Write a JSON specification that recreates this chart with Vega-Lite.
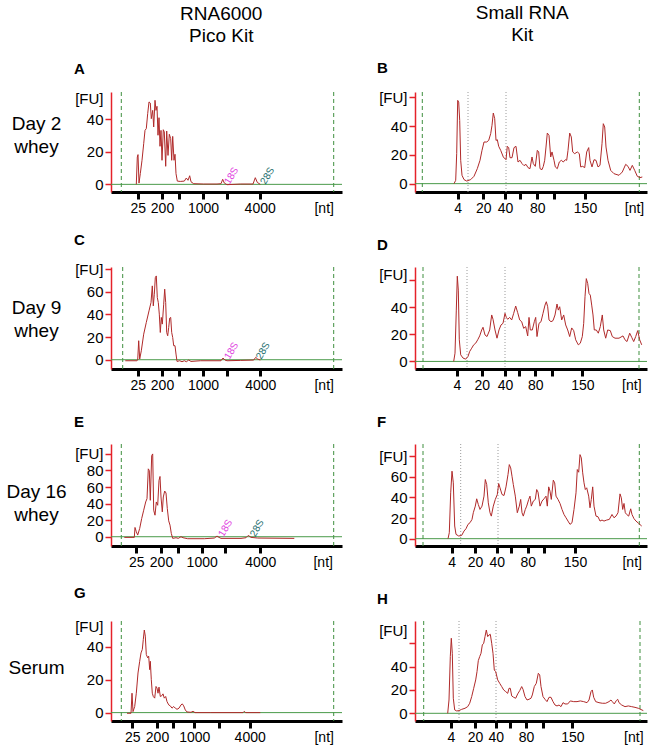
{
  "$schema": "https://vega.github.io/schema/vega-lite/v6.json",
  "padding": {"left": 5, "top": 4, "right": 6, "bottom": 4},
  "config": {
    "font": "Liberation Sans",
    "view": {"stroke": null},
    "axisX": {"domainColor": "#000000", "domainWidth": 3, "tickColor": "#000000", "tickWidth": 3, "tickSize": 7, "labelFontSize": 14, "labelPadding": 2, "labelOverlap": false, "labelSeparation": -100, "labelFlush": false, "labelColor": "#000000", "grid": false},
    "axisY": {"domainColor": "#e5222a", "domainWidth": 1.5, "tickColor": "#e5222a", "tickWidth": 1.5, "tickSize": 6, "labelFontSize": 15, "labelPadding": 2, "labelColor": "#000000", "grid": false, "labelOverlap": false, "labelSeparation": -100, "labelFlush": false, "titleFontWeight": "normal", "titleFontSize": 19, "titleAngle": 0, "titleAlign": "center", "titleBaseline": "middle", "titleColor": "#000000", "titleLineHeight": 23},
    "title": {"fontSize": 15, "fontWeight": "bold", "anchor": "start", "frame": "group", "color": "#000000"}
  },
  "spacing": 34,
  "hconcat": [
    {
      "title": {"text": ["RNA6000", "Pico Kit"], "anchor": "middle", "frame": "bounds", "dx": 47, "fontWeight": "normal", "fontSize": 19, "lineHeight": 22, "offset": 16},
      "bounds": "flush",
      "spacing": 75,
      "vconcat": [
        {
          "width": 231, "height": 100,
          "title": {"text": "A", "dx": -37, "offset": 14},
          "layer": [
            {"data": {"name": "vl"}, "transform": [{"filter": "datum.p == 'A'"}], "mark": {"type": "rule", "color": "#3f8f3f", "strokeDash": [4, 3], "strokeWidth": 1},
             "encoding": {"x": {"field": "t", "type": "quantitative", "title": null, "scale": {"domain": [0, 231], "nice": false, "zero": false}, "axis": {"labelOverlap": false, "labelSeparation": -100, "values": [26.7, 51, 67.7, 92, 116, 148.7, 212.7], "labelExpr": "['25','200','','1000','','4000','[nt]'][indexof([26.7, 51, 67.7, 92, 116, 148.7, 212.7], datum.value)]", "tickOpacity": {"condition": {"test": "datum.value == 212.7", "value": 0}, "value": 1}}}}},
            {"data": {"name": "base"}, "mark": {"type": "rule", "color": "#4a9a4a", "strokeWidth": 1},
             "encoding": {"y": {"field": "v", "type": "quantitative", "title": ["Day 2", "whey"], "scale": {"domain": [-4.7, 56.8], "nice": false, "zero": false}, "axis": {"labelOverlap": false, "labelSeparation": -100, "titleX": -75, "titleY": 31, "values": [0, 20, 40, 53], "labelExpr": "datum.value == 53 ? '[FU]' : datum.label", "tickOpacity": {"condition": {"test": "datum.value == 53", "value": 0}, "value": 1}}}}},
            {"data": {"name": "trA"}, "mark": {"type": "line", "color": "#b02a2a", "strokeWidth": 1},
             "encoding": {
               "x": {"field": "t", "type": "quantitative", "title": null, "scale": {"domain": [0, 231], "nice": false, "zero": false}, "axis": {"labelOverlap": false, "labelSeparation": -100, "values": [26.7, 51, 67.7, 92, 116, 148.7, 212.7], "labelExpr": "['25','200','','1000','','4000','[nt]'][indexof([26.7, 51, 67.7, 92, 116, 148.7, 212.7], datum.value)]", "tickOpacity": {"condition": {"test": "datum.value == 212.7", "value": 0}, "value": 1}}},
               "y": {"field": "v", "type": "quantitative", "title": ["Day 2", "whey"], "scale": {"domain": [-4.7, 56.8], "nice": false, "zero": false}, "axis": {"labelOverlap": false, "labelSeparation": -100, "titleX": -75, "titleY": 31, "values": [0, 20, 40, 53], "labelExpr": "datum.value == 53 ? '[FU]' : datum.label", "tickOpacity": {"condition": {"test": "datum.value == 53", "value": 0}, "value": 1}}}
             }},
            {"data": {"name": "lab"}, "transform": [{"filter": "datum.p == 'A'"}], "mark": {"type": "text", "angle": 300, "align": "left", "baseline": "middle", "fontSize": 10},
             "encoding": {
               "x": {"field": "t", "type": "quantitative", "title": null, "scale": {"domain": [0, 231], "nice": false, "zero": false}, "axis": {"labelOverlap": false, "labelSeparation": -100, "values": [26.7, 51, 67.7, 92, 116, 148.7, 212.7], "labelExpr": "['25','200','','1000','','4000','[nt]'][indexof([26.7, 51, 67.7, 92, 116, 148.7, 212.7], datum.value)]", "tickOpacity": {"condition": {"test": "datum.value == 212.7", "value": 0}, "value": 1}}},
               "y": {"field": "v", "type": "quantitative", "title": ["Day 2", "whey"], "scale": {"domain": [-4.7, 56.8], "nice": false, "zero": false}, "axis": {"labelOverlap": false, "labelSeparation": -100, "titleX": -75, "titleY": 31, "values": [0, 20, 40, 53], "labelExpr": "datum.value == 53 ? '[FU]' : datum.label", "tickOpacity": {"condition": {"test": "datum.value == 53", "value": 0}, "value": 1}}},
               "text": {"field": "txt"}, "color": {"field": "txt", "type": "nominal", "scale": {"domain": ["18S", "28S"], "range": ["#e040e0", "#1d6e6e"]}, "legend": null}}}
          ]
        },
        {
          "width": 231, "height": 102,
          "title": {"text": "C", "dx": -37, "offset": 14},
          "layer": [
            {"data": {"name": "vl"}, "transform": [{"filter": "datum.p == 'C'"}], "mark": {"type": "rule", "color": "#3f8f3f", "strokeDash": [4, 3], "strokeWidth": 1},
             "encoding": {"x": {"field": "t", "type": "quantitative", "title": null, "scale": {"domain": [0, 231], "nice": false, "zero": false}, "axis": {"labelOverlap": false, "labelSeparation": -100, "values": [26.7, 51, 67.7, 92, 116, 149.3, 212.7], "labelExpr": "['25','200','','1000','','4000','[nt]'][indexof([26.7, 51, 67.7, 92, 116, 149.3, 212.7], datum.value)]", "tickOpacity": {"condition": {"test": "datum.value == 212.7", "value": 0}, "value": 1}}}}},
            {"data": {"name": "base"}, "mark": {"type": "rule", "color": "#4a9a4a", "strokeWidth": 1},
             "encoding": {"y": {"field": "v", "type": "quantitative", "title": ["Day 9", "whey"], "scale": {"domain": [-8.2, 82], "nice": false, "zero": false}, "axis": {"labelOverlap": false, "labelSeparation": -100, "titleX": -75, "titleY": 40, "values": [0, 20, 40, 60, 80], "labelExpr": "datum.value == 80 ? '[FU]' : datum.label"}}}},
            {"data": {"name": "trC"}, "mark": {"type": "line", "color": "#b02a2a", "strokeWidth": 1},
             "encoding": {
               "x": {"field": "t", "type": "quantitative", "title": null, "scale": {"domain": [0, 231], "nice": false, "zero": false}, "axis": {"labelOverlap": false, "labelSeparation": -100, "values": [26.7, 51, 67.7, 92, 116, 149.3, 212.7], "labelExpr": "['25','200','','1000','','4000','[nt]'][indexof([26.7, 51, 67.7, 92, 116, 149.3, 212.7], datum.value)]", "tickOpacity": {"condition": {"test": "datum.value == 212.7", "value": 0}, "value": 1}}},
               "y": {"field": "v", "type": "quantitative", "title": ["Day 9", "whey"], "scale": {"domain": [-8.2, 82], "nice": false, "zero": false}, "axis": {"labelOverlap": false, "labelSeparation": -100, "titleX": -75, "titleY": 40, "values": [0, 20, 40, 60, 80], "labelExpr": "datum.value == 80 ? '[FU]' : datum.label"}}
             }},
            {"data": {"name": "lab"}, "transform": [{"filter": "datum.p == 'C'"}], "mark": {"type": "text", "angle": 300, "align": "left", "baseline": "middle", "fontSize": 10},
             "encoding": {
               "x": {"field": "t", "type": "quantitative", "title": null, "scale": {"domain": [0, 231], "nice": false, "zero": false}, "axis": {"labelOverlap": false, "labelSeparation": -100, "values": [26.7, 51, 67.7, 92, 116, 149.3, 212.7], "labelExpr": "['25','200','','1000','','4000','[nt]'][indexof([26.7, 51, 67.7, 92, 116, 149.3, 212.7], datum.value)]", "tickOpacity": {"condition": {"test": "datum.value == 212.7", "value": 0}, "value": 1}}},
               "y": {"field": "v", "type": "quantitative", "title": ["Day 9", "whey"], "scale": {"domain": [-8.2, 82], "nice": false, "zero": false}, "axis": {"labelOverlap": false, "labelSeparation": -100, "titleX": -75, "titleY": 40, "values": [0, 20, 40, 60, 80], "labelExpr": "datum.value == 80 ? '[FU]' : datum.label"}},
               "text": {"field": "txt"}, "color": {"field": "txt", "type": "nominal", "scale": {"domain": ["18S", "28S"], "range": ["#e040e0", "#1d6e6e"]}, "legend": null}}}
          ]
        },
        {
          "width": 231, "height": 102,
          "title": {"text": "E", "dx": -37, "offset": 14},
          "layer": [
            {"data": {"name": "vl"}, "transform": [{"filter": "datum.p == 'E'"}], "mark": {"type": "rule", "color": "#3f8f3f", "strokeDash": [4, 3], "strokeWidth": 1},
             "encoding": {"x": {"field": "t", "type": "quantitative", "title": null, "scale": {"domain": [0, 231], "nice": false, "zero": false}, "axis": {"labelOverlap": false, "labelSeparation": -100, "values": [25.3, 50, 66.7, 90.7, 114.3, 149.3, 211.7], "labelExpr": "['25','200','','1000','','4000','[nt]'][indexof([25.3, 50, 66.7, 90.7, 114.3, 149.3, 211.7], datum.value)]", "tickOpacity": {"condition": {"test": "datum.value == 211.7", "value": 0}, "value": 1}}}}},
            {"data": {"name": "base"}, "mark": {"type": "rule", "color": "#4a9a4a", "strokeWidth": 1},
             "encoding": {"y": {"field": "v", "type": "quantitative", "title": ["Day 16", "whey"], "scale": {"domain": [-11.2, 112], "nice": false, "zero": false}, "axis": {"labelOverlap": false, "labelSeparation": -100, "titleX": -75, "titleY": 47, "values": [0, 20, 40, 60, 80, 100], "labelExpr": "datum.value == 100 ? '[FU]' : datum.label"}}}},
            {"data": {"name": "trE"}, "mark": {"type": "line", "color": "#b02a2a", "strokeWidth": 1},
             "encoding": {
               "x": {"field": "t", "type": "quantitative", "title": null, "scale": {"domain": [0, 231], "nice": false, "zero": false}, "axis": {"labelOverlap": false, "labelSeparation": -100, "values": [25.3, 50, 66.7, 90.7, 114.3, 149.3, 211.7], "labelExpr": "['25','200','','1000','','4000','[nt]'][indexof([25.3, 50, 66.7, 90.7, 114.3, 149.3, 211.7], datum.value)]", "tickOpacity": {"condition": {"test": "datum.value == 211.7", "value": 0}, "value": 1}}},
               "y": {"field": "v", "type": "quantitative", "title": ["Day 16", "whey"], "scale": {"domain": [-11.2, 112], "nice": false, "zero": false}, "axis": {"labelOverlap": false, "labelSeparation": -100, "titleX": -75, "titleY": 47, "values": [0, 20, 40, 60, 80, 100], "labelExpr": "datum.value == 100 ? '[FU]' : datum.label"}}
             }},
            {"data": {"name": "lab"}, "transform": [{"filter": "datum.p == 'E'"}], "mark": {"type": "text", "angle": 300, "align": "left", "baseline": "middle", "fontSize": 10},
             "encoding": {
               "x": {"field": "t", "type": "quantitative", "title": null, "scale": {"domain": [0, 231], "nice": false, "zero": false}, "axis": {"labelOverlap": false, "labelSeparation": -100, "values": [25.3, 50, 66.7, 90.7, 114.3, 149.3, 211.7], "labelExpr": "['25','200','','1000','','4000','[nt]'][indexof([25.3, 50, 66.7, 90.7, 114.3, 149.3, 211.7], datum.value)]", "tickOpacity": {"condition": {"test": "datum.value == 211.7", "value": 0}, "value": 1}}},
               "y": {"field": "v", "type": "quantitative", "title": ["Day 16", "whey"], "scale": {"domain": [-11.2, 112], "nice": false, "zero": false}, "axis": {"labelOverlap": false, "labelSeparation": -100, "titleX": -75, "titleY": 47, "values": [0, 20, 40, 60, 80, 100], "labelExpr": "datum.value == 100 ? '[FU]' : datum.label"}},
               "text": {"field": "txt"}, "color": {"field": "txt", "type": "nominal", "scale": {"domain": ["18S", "28S"], "range": ["#e040e0", "#1d6e6e"]}, "legend": null}}}
          ]
        },
        {
          "width": 231, "height": 100,
          "title": {"text": "G", "dx": -37, "offset": 18},
          "layer": [
            {"data": {"name": "vl"}, "transform": [{"filter": "datum.p == 'G'"}], "mark": {"type": "rule", "color": "#3f8f3f", "strokeDash": [4, 3], "strokeWidth": 1},
             "encoding": {"x": {"field": "t", "type": "quantitative", "title": null, "scale": {"domain": [0, 231], "nice": false, "zero": false}, "axis": {"labelOverlap": false, "labelSeparation": -100, "values": [21.3, 46, 61.7, 83.3, 107.7, 138.7, 212.7], "labelExpr": "['25','200','','1000','','4000','[nt]'][indexof([21.3, 46, 61.7, 83.3, 107.7, 138.7, 212.7], datum.value)]", "tickOpacity": {"condition": {"test": "datum.value == 212.7", "value": 0}, "value": 1}}}}},
            {"data": {"name": "base"}, "mark": {"type": "rule", "color": "#4a9a4a", "strokeWidth": 1},
             "encoding": {"y": {"field": "v", "type": "quantitative", "title": "Serum", "scale": {"domain": [-5.1, 55.7], "nice": false, "zero": false}, "axis": {"labelOverlap": false, "labelSeparation": -100, "titleX": -75, "titleY": 46, "values": [0, 20, 40, 52.5], "labelExpr": "datum.value == 52.5 ? '[FU]' : datum.label", "tickOpacity": {"condition": {"test": "datum.value == 52.5", "value": 0}, "value": 1}}}}},
            {"data": {"name": "trG"}, "mark": {"type": "line", "color": "#b02a2a", "strokeWidth": 1},
             "encoding": {
               "x": {"field": "t", "type": "quantitative", "title": null, "scale": {"domain": [0, 231], "nice": false, "zero": false}, "axis": {"labelOverlap": false, "labelSeparation": -100, "values": [21.3, 46, 61.7, 83.3, 107.7, 138.7, 212.7], "labelExpr": "['25','200','','1000','','4000','[nt]'][indexof([21.3, 46, 61.7, 83.3, 107.7, 138.7, 212.7], datum.value)]", "tickOpacity": {"condition": {"test": "datum.value == 212.7", "value": 0}, "value": 1}}},
               "y": {"field": "v", "type": "quantitative", "title": "Serum", "scale": {"domain": [-5.1, 55.7], "nice": false, "zero": false}, "axis": {"labelOverlap": false, "labelSeparation": -100, "titleX": -75, "titleY": 46, "values": [0, 20, 40, 52.5], "labelExpr": "datum.value == 52.5 ? '[FU]' : datum.label", "tickOpacity": {"condition": {"test": "datum.value == 52.5", "value": 0}, "value": 1}}}
             }}
          ]
        }
      ]
    },
    {
      "title": {"text": ["Small RNA", "Kit"], "anchor": "middle", "frame": "bounds", "dx": 10, "fontWeight": "normal", "fontSize": 19, "lineHeight": 22, "offset": 16},
      "bounds": "flush",
      "spacing": 75,
      "vconcat": [
        {
          "width": 232, "height": 100,
          "title": {"text": "B", "dx": -38, "offset": 14},
          "layer": [
            {"data": {"name": "vl"}, "transform": [{"filter": "datum.p == 'B' && datum.k == 'g'"}], "mark": {"type": "rule", "color": "#3f8f3f", "strokeDash": [4, 3], "strokeWidth": 1},
             "encoding": {"x": {"field": "t", "type": "quantitative", "title": null, "scale": {"domain": [0, 232], "nice": false, "zero": false}, "axis": {"labelOverlap": false, "labelSeparation": -100, "values": [42.7, 68.3, 90, 105, 122.3, 139, 170, 219], "labelExpr": "['4','20','40','','80','','150','[nt]'][indexof([42.7, 68.3, 90, 105, 122.3, 139, 170, 219], datum.value)]", "tickOpacity": {"condition": {"test": "datum.value == 219", "value": 0}, "value": 1}}}}},
            {"data": {"name": "vl"}, "transform": [{"filter": "datum.p == 'B' && datum.k == 'd'"}], "mark": {"type": "rule", "color": "#9a9a9a", "strokeDash": [1, 2], "strokeWidth": 1},
             "encoding": {"x": {"field": "t", "type": "quantitative", "title": null, "scale": {"domain": [0, 232], "nice": false, "zero": false}, "axis": {"labelOverlap": false, "labelSeparation": -100, "values": [42.7, 68.3, 90, 105, 122.3, 139, 170, 219], "labelExpr": "['4','20','40','','80','','150','[nt]'][indexof([42.7, 68.3, 90, 105, 122.3, 139, 170, 219], datum.value)]", "tickOpacity": {"condition": {"test": "datum.value == 219", "value": 0}, "value": 1}}}}},
            {"data": {"name": "base"}, "mark": {"type": "rule", "color": "#4a9a4a", "strokeWidth": 1},
             "encoding": {"y": {"field": "v", "type": "quantitative", "title": null, "scale": {"domain": [-5.8, 63.6], "nice": false, "zero": false}, "axis": {"labelOverlap": false, "labelSeparation": -100, "values": [0, 20, 40, 60], "labelExpr": "datum.value == 60 ? '[FU]' : datum.label"}}}},
            {"data": {"name": "trB"}, "mark": {"type": "line", "color": "#b02a2a", "strokeWidth": 1},
             "encoding": {
               "x": {"field": "t", "type": "quantitative", "title": null, "scale": {"domain": [0, 232], "nice": false, "zero": false}, "axis": {"labelOverlap": false, "labelSeparation": -100, "values": [42.7, 68.3, 90, 105, 122.3, 139, 170, 219], "labelExpr": "['4','20','40','','80','','150','[nt]'][indexof([42.7, 68.3, 90, 105, 122.3, 139, 170, 219], datum.value)]", "tickOpacity": {"condition": {"test": "datum.value == 219", "value": 0}, "value": 1}}},
               "y": {"field": "v", "type": "quantitative", "title": null, "scale": {"domain": [-5.8, 63.6], "nice": false, "zero": false}, "axis": {"labelOverlap": false, "labelSeparation": -100, "values": [0, 20, 40, 60], "labelExpr": "datum.value == 60 ? '[FU]' : datum.label"}}
             }}
          ]
        },
        {
          "width": 232, "height": 102,
          "title": {"text": "D", "dx": -38, "offset": 14},
          "layer": [
            {"data": {"name": "vl"}, "transform": [{"filter": "datum.p == 'D' && datum.k == 'g'"}], "mark": {"type": "rule", "color": "#3f8f3f", "strokeDash": [4, 3], "strokeWidth": 1},
             "encoding": {"x": {"field": "t", "type": "quantitative", "title": null, "scale": {"domain": [0, 232], "nice": false, "zero": false}, "axis": {"labelOverlap": false, "labelSeparation": -100, "values": [42, 66.7, 90, 104, 120.3, 137.3, 167.3, 216.3], "labelExpr": "['4','20','40','','80','','150','[nt]'][indexof([42, 66.7, 90, 104, 120.3, 137.3, 167.3, 216.3], datum.value)]", "tickOpacity": {"condition": {"test": "datum.value == 216.3", "value": 0}, "value": 1}}}}},
            {"data": {"name": "vl"}, "transform": [{"filter": "datum.p == 'D' && datum.k == 'd'"}], "mark": {"type": "rule", "color": "#9a9a9a", "strokeDash": [1, 2], "strokeWidth": 1},
             "encoding": {"x": {"field": "t", "type": "quantitative", "title": null, "scale": {"domain": [0, 232], "nice": false, "zero": false}, "axis": {"labelOverlap": false, "labelSeparation": -100, "values": [42, 66.7, 90, 104, 120.3, 137.3, 167.3, 216.3], "labelExpr": "['4','20','40','','80','','150','[nt]'][indexof([42, 66.7, 90, 104, 120.3, 137.3, 167.3, 216.3], datum.value)]", "tickOpacity": {"condition": {"test": "datum.value == 216.3", "value": 0}, "value": 1}}}}},
            {"data": {"name": "base"}, "mark": {"type": "rule", "color": "#4a9a4a", "strokeWidth": 1},
             "encoding": {"y": {"field": "v", "type": "quantitative", "title": null, "scale": {"domain": [-5.6, 69.9], "nice": false, "zero": false}, "axis": {"labelOverlap": false, "labelSeparation": -100, "values": [0, 20, 40, 60, 64.5], "labelExpr": "datum.value == 64.5 ? '[FU]' : datum.value == 60 ? '' : datum.label", "tickOpacity": {"condition": {"test": "datum.value == 64.5", "value": 0}, "value": 1}}}}},
            {"data": {"name": "trD"}, "mark": {"type": "line", "color": "#b02a2a", "strokeWidth": 1},
             "encoding": {
               "x": {"field": "t", "type": "quantitative", "title": null, "scale": {"domain": [0, 232], "nice": false, "zero": false}, "axis": {"labelOverlap": false, "labelSeparation": -100, "values": [42, 66.7, 90, 104, 120.3, 137.3, 167.3, 216.3], "labelExpr": "['4','20','40','','80','','150','[nt]'][indexof([42, 66.7, 90, 104, 120.3, 137.3, 167.3, 216.3], datum.value)]", "tickOpacity": {"condition": {"test": "datum.value == 216.3", "value": 0}, "value": 1}}},
               "y": {"field": "v", "type": "quantitative", "title": null, "scale": {"domain": [-5.6, 69.9], "nice": false, "zero": false}, "axis": {"labelOverlap": false, "labelSeparation": -100, "values": [0, 20, 40, 60, 64.5], "labelExpr": "datum.value == 64.5 ? '[FU]' : datum.value == 60 ? '' : datum.label", "tickOpacity": {"condition": {"test": "datum.value == 64.5", "value": 0}, "value": 1}}}
             }}
          ]
        },
        {
          "width": 232, "height": 102,
          "title": {"text": "F", "dx": -38, "offset": 14},
          "layer": [
            {"data": {"name": "vl"}, "transform": [{"filter": "datum.p == 'F' && datum.k == 'g'"}], "mark": {"type": "rule", "color": "#3f8f3f", "strokeDash": [4, 3], "strokeWidth": 1},
             "encoding": {"x": {"field": "t", "type": "quantitative", "title": null, "scale": {"domain": [0, 232], "nice": false, "zero": false}, "axis": {"labelOverlap": false, "labelSeparation": -100, "values": [36.7, 60, 81.7, 96, 112.7, 129.3, 160, 216.7], "labelExpr": "['4','20','40','','80','','150','[nt]'][indexof([36.7, 60, 81.7, 96, 112.7, 129.3, 160, 216.7], datum.value)]", "tickOpacity": {"condition": {"test": "datum.value == 216.7", "value": 0}, "value": 1}}}}},
            {"data": {"name": "vl"}, "transform": [{"filter": "datum.p == 'F' && datum.k == 'd'"}], "mark": {"type": "rule", "color": "#9a9a9a", "strokeDash": [1, 2], "strokeWidth": 1},
             "encoding": {"x": {"field": "t", "type": "quantitative", "title": null, "scale": {"domain": [0, 232], "nice": false, "zero": false}, "axis": {"labelOverlap": false, "labelSeparation": -100, "values": [36.7, 60, 81.7, 96, 112.7, 129.3, 160, 216.7], "labelExpr": "['4','20','40','','80','','150','[nt]'][indexof([36.7, 60, 81.7, 96, 112.7, 129.3, 160, 216.7], datum.value)]", "tickOpacity": {"condition": {"test": "datum.value == 216.7", "value": 0}, "value": 1}}}}},
            {"data": {"name": "base"}, "mark": {"type": "rule", "color": "#4a9a4a", "strokeWidth": 1},
             "encoding": {"y": {"field": "v", "type": "quantitative", "title": null, "scale": {"domain": [-7.1, 91.9], "nice": false, "zero": false}, "axis": {"labelOverlap": false, "labelSeparation": -100, "values": [0, 20, 40, 60, 80], "labelExpr": "datum.value == 80 ? '[FU]' : datum.label"}}}},
            {"data": {"name": "trF"}, "mark": {"type": "line", "color": "#b02a2a", "strokeWidth": 1},
             "encoding": {
               "x": {"field": "t", "type": "quantitative", "title": null, "scale": {"domain": [0, 232], "nice": false, "zero": false}, "axis": {"labelOverlap": false, "labelSeparation": -100, "values": [36.7, 60, 81.7, 96, 112.7, 129.3, 160, 216.7], "labelExpr": "['4','20','40','','80','','150','[nt]'][indexof([36.7, 60, 81.7, 96, 112.7, 129.3, 160, 216.7], datum.value)]", "tickOpacity": {"condition": {"test": "datum.value == 216.7", "value": 0}, "value": 1}}},
               "y": {"field": "v", "type": "quantitative", "title": null, "scale": {"domain": [-7.1, 91.9], "nice": false, "zero": false}, "axis": {"labelOverlap": false, "labelSeparation": -100, "values": [0, 20, 40, 60, 80], "labelExpr": "datum.value == 80 ? '[FU]' : datum.label"}}
             }}
          ]
        },
        {
          "width": 232, "height": 100,
          "title": {"text": "H", "dx": -38, "offset": 14},
          "layer": [
            {"data": {"name": "vl"}, "transform": [{"filter": "datum.p == 'H' && datum.k == 'g'"}], "mark": {"type": "rule", "color": "#3f8f3f", "strokeDash": [4, 3], "strokeWidth": 1},
             "encoding": {"x": {"field": "t", "type": "quantitative", "title": null, "scale": {"domain": [0, 232], "nice": false, "zero": false}, "axis": {"labelOverlap": false, "labelSeparation": -100, "values": [36, 60, 80.7, 95, 111, 128.3, 157.3, 218.3], "labelExpr": "['4','20','40','','80','','150','[nt]'][indexof([36, 60, 80.7, 95, 111, 128.3, 157.3, 218.3], datum.value)]", "tickOpacity": {"condition": {"test": "datum.value == 218.3", "value": 0}, "value": 1}}}}},
            {"data": {"name": "vl"}, "transform": [{"filter": "datum.p == 'H' && datum.k == 'd'"}], "mark": {"type": "rule", "color": "#9a9a9a", "strokeDash": [1, 2], "strokeWidth": 1},
             "encoding": {"x": {"field": "t", "type": "quantitative", "title": null, "scale": {"domain": [0, 232], "nice": false, "zero": false}, "axis": {"labelOverlap": false, "labelSeparation": -100, "values": [36, 60, 80.7, 95, 111, 128.3, 157.3, 218.3], "labelExpr": "['4','20','40','','80','','150','[nt]'][indexof([36, 60, 80.7, 95, 111, 128.3, 157.3, 218.3], datum.value)]", "tickOpacity": {"condition": {"test": "datum.value == 218.3", "value": 0}, "value": 1}}}}},
            {"data": {"name": "base"}, "mark": {"type": "rule", "color": "#4a9a4a", "strokeWidth": 1},
             "encoding": {"y": {"field": "v", "type": "quantitative", "title": null, "scale": {"domain": [-6.6, 79.1], "nice": false, "zero": false}, "axis": {"labelOverlap": false, "labelSeparation": -100, "values": [0, 20, 40, 60, 71], "labelExpr": "datum.value == 71 ? '[FU]' : datum.value == 60 ? '' : datum.label", "tickOpacity": {"condition": {"test": "datum.value == 71", "value": 0}, "value": 1}}}}},
            {"data": {"name": "trH"}, "mark": {"type": "line", "color": "#b02a2a", "strokeWidth": 1},
             "encoding": {
               "x": {"field": "t", "type": "quantitative", "title": null, "scale": {"domain": [0, 232], "nice": false, "zero": false}, "axis": {"labelOverlap": false, "labelSeparation": -100, "values": [36, 60, 80.7, 95, 111, 128.3, 157.3, 218.3], "labelExpr": "['4','20','40','','80','','150','[nt]'][indexof([36, 60, 80.7, 95, 111, 128.3, 157.3, 218.3], datum.value)]", "tickOpacity": {"condition": {"test": "datum.value == 218.3", "value": 0}, "value": 1}}},
               "y": {"field": "v", "type": "quantitative", "title": null, "scale": {"domain": [-6.6, 79.1], "nice": false, "zero": false}, "axis": {"labelOverlap": false, "labelSeparation": -100, "values": [0, 20, 40, 60, 71], "labelExpr": "datum.value == 71 ? '[FU]' : datum.value == 60 ? '' : datum.label", "tickOpacity": {"condition": {"test": "datum.value == 71", "value": 0}, "value": 1}}}
             }}
          ]
        }
      ]
    }
  ],
  "datasets": {
    "base": [{"v": 0}],
    "vl": [
      {"p": "A", "k": "g", "t": 10.3}, {"p": "A", "k": "g", "t": 222.7},
      {"p": "C", "k": "g", "t": 11.7}, {"p": "C", "k": "g", "t": 222.7},
      {"p": "E", "k": "g", "t": 10.3}, {"p": "E", "k": "g", "t": 222.7},
      {"p": "G", "k": "g", "t": 10.3}, {"p": "G", "k": "g", "t": 222.7},
      {"p": "B", "k": "g", "t": 7.3}, {"p": "B", "k": "g", "t": 224.3}, {"p": "B", "k": "d", "t": 53}, {"p": "B", "k": "d", "t": 91},
      {"p": "D", "k": "g", "t": 8}, {"p": "D", "k": "g", "t": 224}, {"p": "D", "k": "d", "t": 52}, {"p": "D", "k": "d", "t": 90},
      {"p": "F", "k": "g", "t": 8}, {"p": "F", "k": "g", "t": 224.3}, {"p": "F", "k": "d", "t": 45.7}, {"p": "F", "k": "d", "t": 83},
      {"p": "H", "k": "g", "t": 8.7}, {"p": "H", "k": "g", "t": 225}, {"p": "H", "k": "d", "t": 44}, {"p": "H", "k": "d", "t": 81}
    ],
    "lab": [
      {"p": "A", "txt": "18S", "t": 116, "v": 0.5}, {"p": "A", "txt": "28S", "t": 152, "v": 0.5},
      {"p": "C", "txt": "18S", "t": 116, "v": 1}, {"p": "C", "txt": "28S", "t": 147.7, "v": 1},
      {"p": "E", "txt": "18S", "t": 110, "v": 1}, {"p": "E", "txt": "28S", "t": 141.7, "v": 1}
    ],
    "trA": [
      {"t": 25.3, "v": 0}, {"t": 26.3, "v": 16.8}, {"t": 27, "v": 18.3}, {"t": 28, "v": 0.8}, {"t": 29.3, "v": 6.6}, {"t": 31, "v": 14.8}, {"t": 32.7, "v": 25}, {"t": 34, "v": 33.2}, {"t": 35.3, "v": 34.3}, {"t": 36.7, "v": 43.5}, {"t": 38, "v": 50.7}, {"t": 39.3, "v": 50}, {"t": 40.3, "v": 40.4}, {"t": 41.7, "v": 45.5}, {"t": 42.7, "v": 35.3}, {"t": 44, "v": 51.7}, {"t": 45, "v": 45.5}, {"t": 46, "v": 48}, {"t": 47, "v": 30.2}, {"t": 48, "v": 41}, {"t": 49, "v": 23.4}, {"t": 50, "v": 33.2}, {"t": 51, "v": 14.8}, {"t": 52.3, "v": 33.6}, {"t": 53.3, "v": 32.2}, {"t": 54.7, "v": 11.1}, {"t": 55.7, "v": 32.8}, {"t": 57, "v": 17.8}, {"t": 58.3, "v": 30.8}, {"t": 59.7, "v": 28.1}, {"t": 60.7, "v": 14.8}, {"t": 61.7, "v": 29.5}, {"t": 63, "v": 14.8}, {"t": 64, "v": 18.5}, {"t": 65, "v": 6.6}, {"t": 66.3, "v": 2}, {"t": 69.3, "v": 1.8}, {"t": 73.3, "v": 2}, {"t": 75.3, "v": 3.9}, {"t": 77, "v": 2.5}, {"t": 78.7, "v": 5.3}, {"t": 80, "v": 1.6}, {"t": 82.7, "v": 0.4}, {"t": 92.7, "v": 0.2}, {"t": 106, "v": 0.2}, {"t": 110, "v": 0.4}, {"t": 111.7, "v": 3.1}, {"t": 113.3, "v": 0.8}, {"t": 116, "v": -0.2}, {"t": 129.3, "v": 0.2}, {"t": 142, "v": 0.2}, {"t": 144.3, "v": 4.1}, {"t": 146.3, "v": 1.2}, {"t": 149.3, "v": 0}
    ],
    "trC": [
      {"t": 14.3, "v": -0.9}, {"t": 26, "v": -0.9}, {"t": 26.7, "v": -0.3}, {"t": 27.7, "v": 16.8}, {"t": 28.7, "v": 0.6}, {"t": 30.3, "v": 7.9}, {"t": 32.7, "v": 22.6}, {"t": 35.3, "v": 33}, {"t": 38, "v": 43.2}, {"t": 40, "v": 50.6}, {"t": 41.3, "v": 65.3}, {"t": 42.3, "v": 47.6}, {"t": 43.3, "v": 57.9}, {"t": 44.3, "v": 72.6}, {"t": 45.3, "v": 74.1}, {"t": 46.3, "v": 55}, {"t": 47.3, "v": 50.6}, {"t": 48.3, "v": 40.3}, {"t": 49.3, "v": 24.1}, {"t": 50.3, "v": 37.4}, {"t": 51.3, "v": 31.5}, {"t": 52.7, "v": 49.1}, {"t": 53.7, "v": 62.4}, {"t": 54.7, "v": 50.6}, {"t": 55.7, "v": 24.1}, {"t": 56.7, "v": 21.2}, {"t": 57.7, "v": 28.5}, {"t": 58.7, "v": 36.8}, {"t": 59.7, "v": 37.4}, {"t": 60.7, "v": 24.1}, {"t": 61.7, "v": 19.7}, {"t": 62.7, "v": 12.4}, {"t": 64, "v": 12.4}, {"t": 65, "v": 5}, {"t": 66, "v": -1.5}, {"t": 68.7, "v": -0.9}, {"t": 71, "v": -1.8}, {"t": 73.3, "v": -0.9}, {"t": 75.3, "v": -1.8}, {"t": 77.7, "v": -0.3}, {"t": 80, "v": -1.5}, {"t": 89.3, "v": -0.9}, {"t": 106, "v": -0.9}, {"t": 110, "v": -0.9}, {"t": 112, "v": 1.5}, {"t": 114, "v": -0.3}, {"t": 116, "v": -0.9}, {"t": 129.3, "v": -0.6}, {"t": 142.7, "v": -0.3}, {"t": 144.7, "v": 2.1}, {"t": 146.7, "v": 0.6}, {"t": 149.3, "v": -0.3}
    ],
    "trE": [
      {"t": 13.3, "v": -0.8}, {"t": 23.3, "v": -0.8}, {"t": 24, "v": 11.2}, {"t": 25.3, "v": 6}, {"t": 26.7, "v": 2}, {"t": 28.7, "v": 10}, {"t": 30.7, "v": 22}, {"t": 32.7, "v": 32}, {"t": 34.7, "v": 42}, {"t": 36, "v": 46}, {"t": 37.3, "v": 82}, {"t": 38.3, "v": 80}, {"t": 39.3, "v": 44}, {"t": 40.7, "v": 98}, {"t": 41.7, "v": 100}, {"t": 42.7, "v": 32}, {"t": 44, "v": 26}, {"t": 45.3, "v": 42}, {"t": 46.7, "v": 38}, {"t": 48, "v": 68}, {"t": 49, "v": 72.8}, {"t": 50, "v": 48}, {"t": 51.3, "v": 30}, {"t": 52.3, "v": 48}, {"t": 53.7, "v": 55.2}, {"t": 55, "v": 52.8}, {"t": 56.3, "v": 34}, {"t": 57.7, "v": 19.2}, {"t": 59, "v": 14}, {"t": 60.3, "v": 4}, {"t": 61.7, "v": -2}, {"t": 65, "v": -1.2}, {"t": 67.3, "v": -2}, {"t": 70, "v": 0}, {"t": 72, "v": -1.2}, {"t": 76.7, "v": -2.4}, {"t": 93.3, "v": -2.4}, {"t": 103.3, "v": -1.6}, {"t": 106, "v": 0.8}, {"t": 108, "v": -0.8}, {"t": 110, "v": -2}, {"t": 130, "v": -2}, {"t": 135, "v": -1.2}, {"t": 137.3, "v": 1.6}, {"t": 140, "v": -0.8}, {"t": 146.7, "v": -1.6}, {"t": 183.3, "v": -2}
    ],
    "trG": [
      {"t": 16, "v": -0.4}, {"t": 20, "v": -0.4}, {"t": 21, "v": 11.8}, {"t": 22, "v": 0.6}, {"t": 23.7, "v": 3.7}, {"t": 25.3, "v": 11.8}, {"t": 27, "v": 24.1}, {"t": 28.7, "v": 31.2}, {"t": 30, "v": 36.3}, {"t": 31.3, "v": 38.4}, {"t": 32.3, "v": 44.5}, {"t": 33.3, "v": 50.2}, {"t": 34.3, "v": 46.5}, {"t": 35.3, "v": 35.3}, {"t": 36.7, "v": 33.3}, {"t": 37.7, "v": 34.3}, {"t": 38.7, "v": 26.1}, {"t": 39.3, "v": 31.2}, {"t": 40.3, "v": 20}, {"t": 41.3, "v": 11.8}, {"t": 42.3, "v": 9.8}, {"t": 43.7, "v": 8.8}, {"t": 45, "v": 15.9}, {"t": 46, "v": 14.9}, {"t": 47, "v": 11.8}, {"t": 48, "v": 15.5}, {"t": 49.3, "v": 9.8}, {"t": 50.7, "v": 10.2}, {"t": 52, "v": 11.4}, {"t": 53.3, "v": 8.8}, {"t": 54.7, "v": 9.8}, {"t": 56, "v": 6.7}, {"t": 57.7, "v": 4.7}, {"t": 59.3, "v": 4.1}, {"t": 61, "v": 2.7}, {"t": 62.7, "v": 3.7}, {"t": 64.3, "v": 2.7}, {"t": 66, "v": 2}, {"t": 68, "v": 2.7}, {"t": 70, "v": 4.7}, {"t": 71.3, "v": 5.3}, {"t": 72.7, "v": 4.1}, {"t": 74.3, "v": 1.6}, {"t": 76, "v": 0.4}, {"t": 80, "v": 0.2}, {"t": 82, "v": 0.8}, {"t": 84, "v": 0}, {"t": 99.3, "v": 0}, {"t": 132, "v": 0}, {"t": 133.3, "v": 0.8}, {"t": 134.7, "v": 0}, {"t": 149.3, "v": 0}
    ],
    "trB": [
      {"t": 39, "v": 0}, {"t": 40.7, "v": 2.3}, {"t": 41.7, "v": 20.8}, {"t": 42.7, "v": 57.8}, {"t": 43.7, "v": 56.6}, {"t": 44.7, "v": 43.9}, {"t": 45.7, "v": 16.2}, {"t": 47, "v": 5.8}, {"t": 49, "v": 2.8}, {"t": 51.7, "v": 1.8}, {"t": 55.7, "v": 2.8}, {"t": 59, "v": 5.1}, {"t": 62.3, "v": 10.4}, {"t": 65, "v": 16.2}, {"t": 67, "v": 23.1}, {"t": 69, "v": 28.9}, {"t": 71.7, "v": 28.9}, {"t": 73.7, "v": 30}, {"t": 75.7, "v": 34.7}, {"t": 77, "v": 40.5}, {"t": 78.3, "v": 49}, {"t": 79.7, "v": 45.1}, {"t": 81, "v": 30}, {"t": 82.3, "v": 30.5}, {"t": 83.7, "v": 25.9}, {"t": 85.7, "v": 23.1}, {"t": 88.3, "v": 18.5}, {"t": 91, "v": 16.6}, {"t": 92.3, "v": 25.9}, {"t": 93.7, "v": 25}, {"t": 95, "v": 18}, {"t": 97, "v": 18}, {"t": 99, "v": 25}, {"t": 101, "v": 25.9}, {"t": 103, "v": 15}, {"t": 105, "v": 16.2}, {"t": 107, "v": 13.9}, {"t": 109, "v": 12.5}, {"t": 111, "v": 13.4}, {"t": 113, "v": 11.1}, {"t": 115, "v": 10.4}, {"t": 117, "v": 18.5}, {"t": 118.3, "v": 13.9}, {"t": 120.3, "v": 12}, {"t": 122.3, "v": 23.1}, {"t": 123.7, "v": 22}, {"t": 125, "v": 10.4}, {"t": 127, "v": 9.7}, {"t": 128.3, "v": 12}, {"t": 129.7, "v": 16.2}, {"t": 131, "v": 25.4}, {"t": 132.3, "v": 35.1}, {"t": 134, "v": 33.5}, {"t": 135.7, "v": 18.5}, {"t": 137, "v": 22}, {"t": 139, "v": 16.2}, {"t": 140.3, "v": 11.6}, {"t": 142.3, "v": 10.4}, {"t": 144.3, "v": 15}, {"t": 146.3, "v": 16.2}, {"t": 148.3, "v": 15}, {"t": 150.3, "v": 16.6}, {"t": 151.7, "v": 16.2}, {"t": 153, "v": 23.1}, {"t": 154.7, "v": 35.1}, {"t": 156.3, "v": 32.4}, {"t": 157.7, "v": 22}, {"t": 159.7, "v": 20.8}, {"t": 162.3, "v": 22}, {"t": 164.3, "v": 20.8}, {"t": 165.7, "v": 11.6}, {"t": 167.7, "v": 12}, {"t": 169.7, "v": 11.1}, {"t": 171.7, "v": 22}, {"t": 173.7, "v": 25}, {"t": 175, "v": 16.2}, {"t": 177, "v": 11.6}, {"t": 179, "v": 16.6}, {"t": 181, "v": 16.2}, {"t": 183, "v": 11.6}, {"t": 185, "v": 12.7}, {"t": 187, "v": 27.7}, {"t": 188.3, "v": 41.6}, {"t": 189.7, "v": 39.3}, {"t": 191, "v": 25.4}, {"t": 193, "v": 16.2}, {"t": 195.7, "v": 9.2}, {"t": 199, "v": 6.9}, {"t": 204, "v": 5.8}, {"t": 207.3, "v": 8.1}, {"t": 210.7, "v": 13.4}, {"t": 213, "v": 12}, {"t": 215, "v": 9.2}, {"t": 217.3, "v": 12.7}, {"t": 219.7, "v": 9.2}, {"t": 222.3, "v": 5.1}, {"t": 225, "v": 4.2}, {"t": 227.3, "v": 4.6}
    ],
    "trD": [
      {"t": 38.7, "v": 0}, {"t": 40, "v": 6.1}, {"t": 41.3, "v": 38}, {"t": 42.3, "v": 63.1}, {"t": 43.3, "v": 52.8}, {"t": 44.3, "v": 16}, {"t": 45.7, "v": 4.9}, {"t": 48, "v": 2.5}, {"t": 50.7, "v": 1.7}, {"t": 53, "v": 3.7}, {"t": 54.7, "v": 7.4}, {"t": 56.7, "v": 9.8}, {"t": 58.7, "v": 12.3}, {"t": 60.7, "v": 13.5}, {"t": 62.7, "v": 16}, {"t": 64.7, "v": 18.9}, {"t": 66.7, "v": 23.3}, {"t": 68, "v": 25.3}, {"t": 70, "v": 19.6}, {"t": 72, "v": 18.4}, {"t": 74.7, "v": 23.3}, {"t": 76.7, "v": 34.4}, {"t": 78, "v": 31.2}, {"t": 80, "v": 23.3}, {"t": 82, "v": 17.2}, {"t": 84, "v": 23.3}, {"t": 86, "v": 27}, {"t": 88, "v": 28.2}, {"t": 90, "v": 35.6}, {"t": 91.3, "v": 32.6}, {"t": 92.7, "v": 31.2}, {"t": 94.7, "v": 32.6}, {"t": 96.7, "v": 30.7}, {"t": 98.7, "v": 35.6}, {"t": 100.7, "v": 41}, {"t": 102.7, "v": 36.1}, {"t": 104.7, "v": 30.7}, {"t": 106.7, "v": 29.4}, {"t": 108.7, "v": 24.5}, {"t": 110.7, "v": 25.8}, {"t": 112.7, "v": 18.9}, {"t": 114, "v": 32.6}, {"t": 115.3, "v": 23.3}, {"t": 117.3, "v": 23.3}, {"t": 119.3, "v": 29.4}, {"t": 120.7, "v": 32.6}, {"t": 122, "v": 18.4}, {"t": 124, "v": 28.2}, {"t": 126, "v": 29.4}, {"t": 128, "v": 35.6}, {"t": 130, "v": 41.7}, {"t": 131.3, "v": 44.2}, {"t": 132.7, "v": 40.5}, {"t": 134, "v": 30.7}, {"t": 136, "v": 29.4}, {"t": 138, "v": 30.2}, {"t": 140, "v": 34.4}, {"t": 142, "v": 42.5}, {"t": 143.3, "v": 38}, {"t": 144.7, "v": 40.5}, {"t": 146.7, "v": 30.7}, {"t": 148.7, "v": 34.4}, {"t": 150.7, "v": 27}, {"t": 152.7, "v": 23.3}, {"t": 154.7, "v": 18.4}, {"t": 156.7, "v": 24.8}, {"t": 158.7, "v": 22.8}, {"t": 160.7, "v": 16}, {"t": 163.3, "v": 12.3}, {"t": 165.3, "v": 13.5}, {"t": 167.3, "v": 18.4}, {"t": 168.7, "v": 28.2}, {"t": 170, "v": 47.9}, {"t": 171.3, "v": 61.3}, {"t": 172.7, "v": 57.7}, {"t": 174, "v": 50.3}, {"t": 175.3, "v": 49.1}, {"t": 176.7, "v": 41.7}, {"t": 178, "v": 34.4}, {"t": 179.3, "v": 23.3}, {"t": 181.3, "v": 23.3}, {"t": 183.3, "v": 20.9}, {"t": 185.3, "v": 25.8}, {"t": 187.3, "v": 34.4}, {"t": 188.7, "v": 23.3}, {"t": 190.7, "v": 17.2}, {"t": 192.7, "v": 23.3}, {"t": 195.3, "v": 22.8}, {"t": 197.3, "v": 18.4}, {"t": 200, "v": 17.2}, {"t": 204, "v": 17.2}, {"t": 208, "v": 18.9}, {"t": 210, "v": 16}, {"t": 212, "v": 14.7}, {"t": 214.7, "v": 20.9}, {"t": 216.7, "v": 17.9}, {"t": 218.7, "v": 14.7}, {"t": 220.7, "v": 18.4}, {"t": 222.7, "v": 22.8}, {"t": 224.7, "v": 16}, {"t": 226.7, "v": 12.3}
    ],
    "trF": [
      {"t": 33, "v": 0}, {"t": 34.3, "v": 5.8}, {"t": 35.7, "v": 44.5}, {"t": 37, "v": 65.5}, {"t": 38.3, "v": 54.2}, {"t": 39.7, "v": 12.3}, {"t": 41, "v": 4.2}, {"t": 43.7, "v": 2.6}, {"t": 46.7, "v": 3.2}, {"t": 49, "v": 7.4}, {"t": 51, "v": 9.7}, {"t": 53, "v": 13.9}, {"t": 55, "v": 15.5}, {"t": 57, "v": 18.7}, {"t": 58.3, "v": 25.2}, {"t": 60.3, "v": 31.6}, {"t": 61.7, "v": 38.7}, {"t": 63.3, "v": 33.2}, {"t": 65, "v": 28.4}, {"t": 67, "v": 31.6}, {"t": 69, "v": 41.3}, {"t": 70.3, "v": 57.4}, {"t": 71.7, "v": 52.6}, {"t": 73.3, "v": 34.8}, {"t": 75, "v": 25.2}, {"t": 76.3, "v": 21.9}, {"t": 78.3, "v": 31.6}, {"t": 80.3, "v": 38.1}, {"t": 82.3, "v": 42.9}, {"t": 83.7, "v": 53.5}, {"t": 85, "v": 49.4}, {"t": 87, "v": 42.9}, {"t": 89, "v": 41.9}, {"t": 91, "v": 50.3}, {"t": 93, "v": 62.3}, {"t": 94.3, "v": 71.9}, {"t": 95.7, "v": 68.7}, {"t": 97, "v": 60.6}, {"t": 98.3, "v": 52.6}, {"t": 100.3, "v": 41.3}, {"t": 102.3, "v": 25.2}, {"t": 104.3, "v": 31.6}, {"t": 105.7, "v": 38.1}, {"t": 107, "v": 25.2}, {"t": 108.3, "v": 21.9}, {"t": 110.3, "v": 28.4}, {"t": 111.7, "v": 31.6}, {"t": 113.7, "v": 38.1}, {"t": 115, "v": 41.3}, {"t": 116.3, "v": 31.6}, {"t": 118.3, "v": 36.5}, {"t": 120.3, "v": 38.1}, {"t": 121.7, "v": 47.7}, {"t": 123, "v": 45.2}, {"t": 125, "v": 31.6}, {"t": 127, "v": 36.5}, {"t": 129, "v": 38.7}, {"t": 131, "v": 41.3}, {"t": 132.3, "v": 31.6}, {"t": 133.7, "v": 50.3}, {"t": 135, "v": 46.1}, {"t": 136.3, "v": 38.1}, {"t": 138.3, "v": 56.8}, {"t": 139.7, "v": 54.2}, {"t": 141, "v": 41.3}, {"t": 143, "v": 38.1}, {"t": 145, "v": 34.2}, {"t": 147, "v": 28.4}, {"t": 149, "v": 23.5}, {"t": 151, "v": 20.3}, {"t": 153, "v": 17.1}, {"t": 155, "v": 13.9}, {"t": 157, "v": 15.5}, {"t": 159, "v": 28.4}, {"t": 161, "v": 44.5}, {"t": 162.3, "v": 67.1}, {"t": 163.7, "v": 64.5}, {"t": 165, "v": 81.6}, {"t": 166.3, "v": 78.4}, {"t": 167.7, "v": 63.9}, {"t": 169, "v": 54.2}, {"t": 170.3, "v": 47.7}, {"t": 171.7, "v": 49.4}, {"t": 173.7, "v": 41.3}, {"t": 175, "v": 30}, {"t": 176.3, "v": 38.1}, {"t": 177.7, "v": 50.3}, {"t": 179, "v": 31.6}, {"t": 181, "v": 21.9}, {"t": 183, "v": 21.3}, {"t": 185, "v": 17.1}, {"t": 187, "v": 18.1}, {"t": 189, "v": 17.1}, {"t": 191.7, "v": 18.1}, {"t": 194.3, "v": 18.7}, {"t": 197, "v": 23.5}, {"t": 199, "v": 20.3}, {"t": 201, "v": 21.9}, {"t": 203, "v": 25.2}, {"t": 205, "v": 43.5}, {"t": 206.3, "v": 39.7}, {"t": 207.7, "v": 28.4}, {"t": 209, "v": 34.2}, {"t": 210.3, "v": 25.2}, {"t": 211.7, "v": 23.5}, {"t": 213.7, "v": 21.9}, {"t": 215.7, "v": 29}, {"t": 217, "v": 23.5}, {"t": 219, "v": 19.4}, {"t": 221, "v": 17.1}, {"t": 223.7, "v": 14.8}, {"t": 226.7, "v": 12.3}
    ],
    "trH": [
      {"t": 32.7, "v": 0}, {"t": 34, "v": 11.4}, {"t": 35.3, "v": 48.6}, {"t": 36.3, "v": 64.3}, {"t": 37.3, "v": 51.4}, {"t": 38.3, "v": 12.9}, {"t": 39.7, "v": 2.9}, {"t": 41.7, "v": 2}, {"t": 44, "v": 2.3}, {"t": 46.7, "v": 3.4}, {"t": 50, "v": 4.3}, {"t": 52.7, "v": 5.7}, {"t": 54.7, "v": 8.6}, {"t": 56.7, "v": 14.3}, {"t": 58.7, "v": 21.4}, {"t": 60.7, "v": 28.6}, {"t": 62, "v": 35.7}, {"t": 63.3, "v": 45.1}, {"t": 64.7, "v": 48.6}, {"t": 66, "v": 51.4}, {"t": 67.3, "v": 58.6}, {"t": 68.7, "v": 60}, {"t": 70, "v": 65.7}, {"t": 71.3, "v": 71.4}, {"t": 72.7, "v": 65.7}, {"t": 74, "v": 67.1}, {"t": 75.3, "v": 67.7}, {"t": 76.7, "v": 60}, {"t": 78, "v": 51.4}, {"t": 79.3, "v": 37.1}, {"t": 80.7, "v": 35.7}, {"t": 82.7, "v": 28.6}, {"t": 84.7, "v": 25.7}, {"t": 86.7, "v": 22.9}, {"t": 88.7, "v": 20}, {"t": 90.7, "v": 18.6}, {"t": 92.7, "v": 17.1}, {"t": 94, "v": 21.4}, {"t": 95.3, "v": 21.4}, {"t": 96.7, "v": 14.9}, {"t": 98.7, "v": 13.7}, {"t": 100.7, "v": 12.9}, {"t": 102.7, "v": 16.6}, {"t": 104.7, "v": 19.4}, {"t": 106.7, "v": 22.9}, {"t": 108, "v": 20.6}, {"t": 110, "v": 14.3}, {"t": 112, "v": 11.4}, {"t": 114, "v": 12}, {"t": 116, "v": 12.9}, {"t": 117.3, "v": 15.7}, {"t": 119.3, "v": 22.9}, {"t": 121.3, "v": 25.7}, {"t": 123.3, "v": 34.3}, {"t": 124.7, "v": 32.9}, {"t": 126, "v": 22.9}, {"t": 128, "v": 14.3}, {"t": 130, "v": 12}, {"t": 132, "v": 10}, {"t": 134, "v": 13.7}, {"t": 136, "v": 13.7}, {"t": 138, "v": 10}, {"t": 140, "v": 7.1}, {"t": 142, "v": 6.3}, {"t": 144, "v": 7.1}, {"t": 146, "v": 5.7}, {"t": 148, "v": 9.1}, {"t": 150, "v": 8}, {"t": 152.7, "v": 8}, {"t": 155.3, "v": 10.6}, {"t": 158.7, "v": 10}, {"t": 162, "v": 10}, {"t": 165.3, "v": 10.6}, {"t": 168.7, "v": 10}, {"t": 172, "v": 9.1}, {"t": 174, "v": 11.4}, {"t": 176, "v": 18.6}, {"t": 177.3, "v": 20}, {"t": 178.7, "v": 13.7}, {"t": 180.7, "v": 10}, {"t": 184, "v": 9.1}, {"t": 187.3, "v": 8.6}, {"t": 190.7, "v": 8.6}, {"t": 194, "v": 10}, {"t": 196, "v": 11.4}, {"t": 197.3, "v": 10}, {"t": 199.3, "v": 8}, {"t": 201.3, "v": 10.9}, {"t": 202.7, "v": 12}, {"t": 204, "v": 9.1}, {"t": 206.7, "v": 7.1}, {"t": 210, "v": 5.7}, {"t": 213.3, "v": 6.3}, {"t": 216.7, "v": 5.7}, {"t": 220, "v": 5.1}, {"t": 223.3, "v": 4.3}, {"t": 228.3, "v": 2.3}
    ]
  }
}
